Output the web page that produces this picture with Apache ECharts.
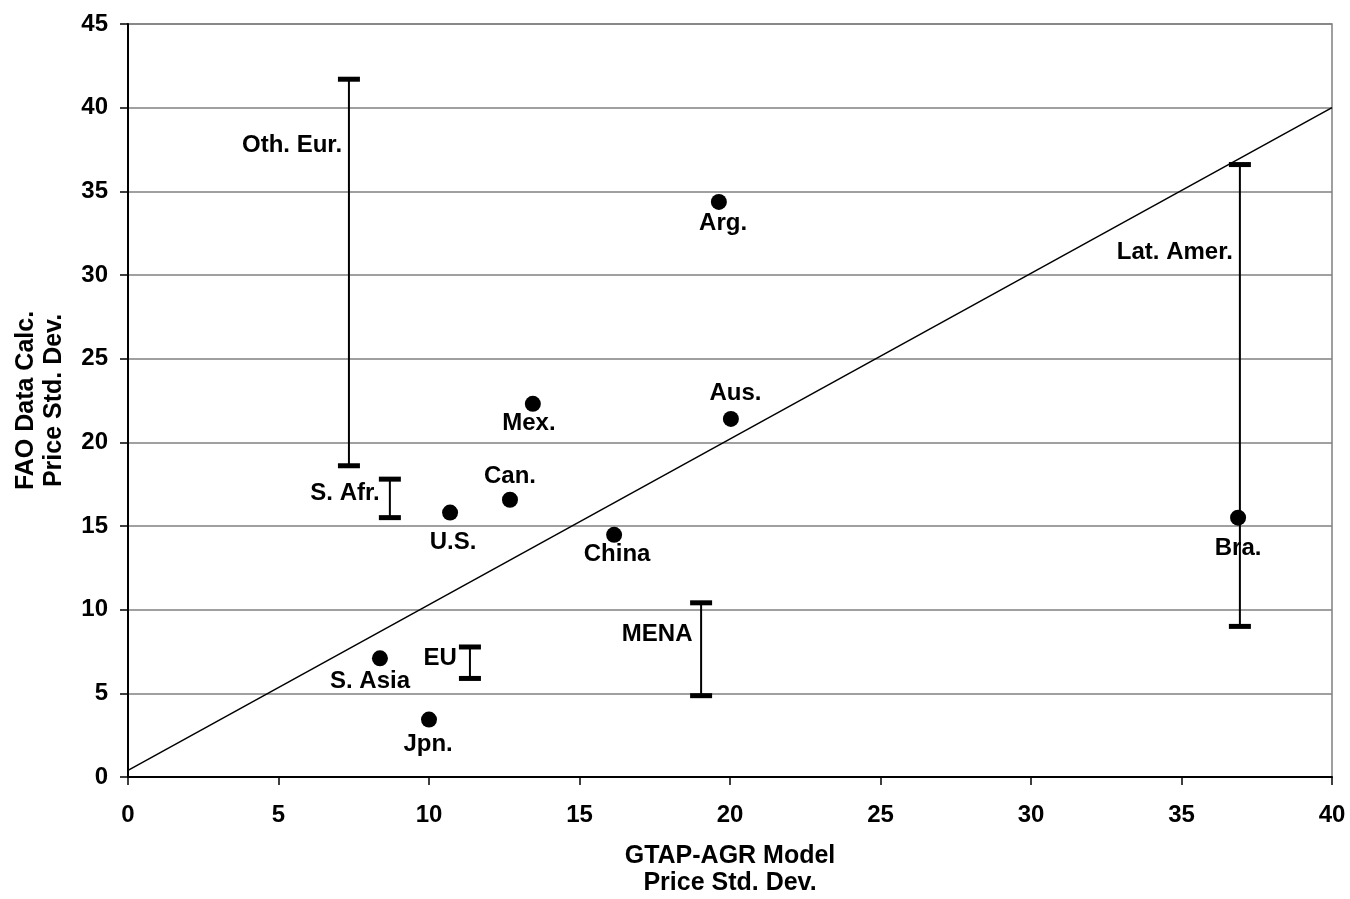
<!DOCTYPE html>
<html>
<head>
<meta charset="utf-8">
<script src="https://cdn.jsdelivr.net/npm/echarts@6/dist/echarts.min.js"></script>
<style>
html,body{margin:0;padding:0;background:#fff;}
#chart{width:1350px;height:899px;}
</style>
</head>
<body>
<div id="chart"></div>
<script>
// Point estimates (x = GTAP-AGR std. dev., y = FAO std. dev.)
const pointNames = ['Arg.', 'Mex.', 'Aus.', 'Can.', 'U.S.', 'China', 'Bra.', 'S. Asia', 'Jpn.'];
const pointX = [19.63, 13.45, 20.03, 12.69, 10.70, 16.15, 36.88, 8.37, 10.00];
const pointY = [34.37, 22.30, 21.40, 16.57, 15.80, 14.47, 15.50, 7.09, 3.43];

// Range estimates (vertical bars)
const rangeNames = ['Oth. Eur.', 'S. Afr.', 'EU', 'MENA', 'Lat. Amer.'];
const rangeX = [7.34, 8.70, 11.36, 19.04, 36.94];
const rangeLow = [18.6, 15.5, 5.89, 4.86, 9.0];
const rangeHigh = [41.7, 17.8, 7.77, 10.41, 36.6];

// Reference line
const refLineX = [0, 40];
const refLineY = [0.4, 40];

// Label anchor positions (data coordinates)
const labelNames = ['Oth. Eur.', 'Arg.', 'Lat. Amer.', 'Aus.', 'Mex.', 'Can.', 'S. Afr.', 'U.S.', 'China', 'Bra.', 'MENA', 'EU', 'S. Asia', 'Jpn.'];
const labelX = [5.45, 19.77, 34.78, 20.18, 13.32, 12.69, 7.21, 10.80, 16.25, 36.88, 17.58, 10.37, 8.04, 9.97];
const labelY = [37.77, 33.06, 31.38, 22.95, 21.11, 17.94, 16.92, 14.00, 13.28, 13.69, 8.50, 7.06, 5.69, 1.93];

const xTicks = [0, 5, 10, 15, 20, 25, 30, 35, 40];
const yTicks = [0, 5, 10, 15, 20, 25, 30, 35, 40, 45];

const FONT = 'Liberation Sans, Arial, Helvetica, sans-serif';

const chart = echarts.init(document.getElementById('chart'));
chart.setOption({
  animation: false,
  backgroundColor: '#fff',
  grid: {left: 128, right: 18, top: 24, bottom: 122, containLabel: false, outerBoundsMode: 'none',
         show: true, borderColor: '#808080', borderWidth: 1.5, backgroundColor: 'transparent'},
  xAxis: {
    type: 'value', min: xTicks[0], max: xTicks[xTicks.length - 1], interval: 5,
    name: 'GTAP-AGR Model\nPrice Std. Dev.', nameLocation: 'middle', nameGap: 66,
    nameTextStyle: {fontFamily: FONT, fontWeight: 'bold', fontSize: 25, color: '#000', lineHeight: 27},
    axisLine: {show: true, onZero: false, lineStyle: {color: '#000', width: 2}},
    axisTick: {show: true, length: 8, inside: false, lineStyle: {color: '#000', width: 1.5}},
    axisLabel: {fontFamily: FONT, fontWeight: 'bold', fontSize: 24, color: '#000', margin: 26},
    splitLine: {show: false}
  },
  yAxis: {
    type: 'value', min: yTicks[0], max: yTicks[yTicks.length - 1], interval: 5,
    name: 'FAO Data Calc.\nPrice Std. Dev.', nameLocation: 'middle', nameGap: 60, nameRotate: 90,
    nameTextStyle: {fontFamily: FONT, fontWeight: 'bold', fontSize: 25, color: '#000', lineHeight: 28},
    axisLine: {show: true, onZero: false, lineStyle: {color: '#000', width: 2}},
    axisTick: {show: true, length: 8, inside: false, lineStyle: {color: '#000', width: 1.5}},
    axisLabel: {fontFamily: FONT, fontWeight: 'bold', fontSize: 24, color: '#000', margin: 20},
    splitLine: {show: true, lineStyle: {color: '#808080', width: 1.5}}
  },
  series: [
    {
      type: 'line',
      data: refLineX.map((x, i) => [x, refLineY[i]]),
      showSymbol: false, symbol: 'none',
      lineStyle: {color: '#000', width: 1.5},
      z: 2, silent: true
    },
    {
      type: 'custom',
      data: rangeX.map((x, i) => [x, rangeLow[i], rangeHigh[i]]),
      renderItem: function (params, api) {
        const x = api.value(0), lo = api.value(1), hi = api.value(2);
        const pTop = api.coord([x, hi]);
        const pBot = api.coord([x, lo]);
        const capW = 22, capH = 5;
        return {
          type: 'group',
          children: [
            {type: 'line', shape: {x1: pTop[0], y1: pTop[1], x2: pBot[0], y2: pBot[1]}, style: {stroke: '#000', lineWidth: 2}},
            {type: 'rect', shape: {x: pTop[0] - capW / 2, y: pTop[1] - capH / 2, width: capW, height: capH}, style: {fill: '#000'}},
            {type: 'rect', shape: {x: pBot[0] - capW / 2, y: pBot[1] - capH / 2, width: capW, height: capH}, style: {fill: '#000'}}
          ]
        };
      },
      z: 3, silent: true
    },
    {
      type: 'scatter',
      data: pointX.map((x, i) => ({name: pointNames[i], value: [x, pointY[i]]})),
      symbol: 'circle', symbolSize: 16,
      itemStyle: {color: '#000', opacity: 1},
      z: 4, silent: true
    },
    {
      type: 'scatter',
      data: labelX.map((x, i) => ({name: labelNames[i], value: [x, labelY[i]]})),
      symbol: 'circle', symbolSize: 1,
      itemStyle: {color: 'rgba(255,255,255,0)', opacity: 1},
      label: {
        show: true, position: 'inside', formatter: p => p.name,
        fontFamily: FONT, fontWeight: 'bold', fontSize: 24, color: '#000', opacity: 1
      },
      z: 5, silent: true
    }
  ]
});
</script>
</body>
</html>
